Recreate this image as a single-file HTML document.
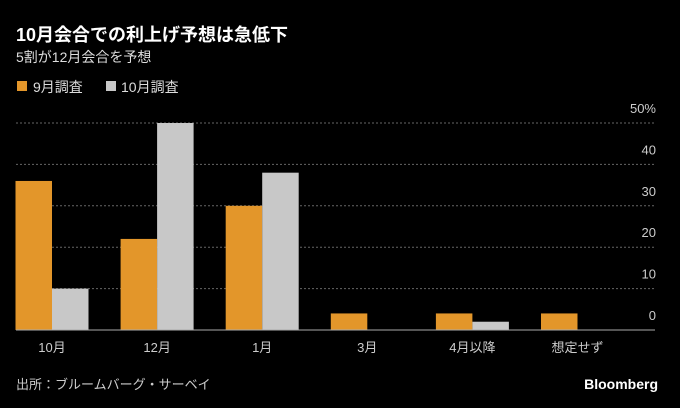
<!DOCTYPE html>
<html><head><meta charset="utf-8">
<style>
body{margin:0;background:#000;width:680px;height:408px;overflow:hidden;font-family:"Liberation Sans","Noto Sans CJK JP",sans-serif;color:#fff}
svg{display:block}
</style></head>
<body>
<svg width="680" height="408">
<text x="16" y="41" font-size="18" font-weight="bold" fill="#fff">10月会合での利上げ予想は急低下</text>
<text x="16" y="62" font-size="14" fill="#ddd">5割が12月会合を予想</text>
<g>
<rect x="17" y="81" width="10" height="10" fill="#e3962a"/>
<text x="33" y="92" font-size="14" fill="#ddd">9月調査</text>
<rect x="106" y="81" width="10" height="10" fill="#c8c8c8"/>
<text x="121" y="92" font-size="14" fill="#ddd">10月調査</text>
</g>
<g id="grid"></g>
<g id="bars"></g>
<g id="labels"></g>
<text x="16" y="389" font-size="13" fill="#ccc">出所：ブルームバーグ・サーベイ</text>
<text x="658" y="389" font-size="14" font-weight="bold" fill="#fff" text-anchor="end">Bloomberg</text>
</svg>
<script>
const categories=["10月","12月","1月","3月","4月以降","想定せず"];
const sepValues=[36,22,30,4,4,4];
const octValues=[10,50,38,0,2,0];
const ticks=[0,10,20,30,40,50];
const NS="http://www.w3.org/2000/svg";
const x0=16,x1=655,y0=330,pxPer=4.14;
const yS=v=>y0-v*pxPer;
const step=(x1-x0)/6.08;
const cx=i=>52+i*step;
const bw=36.5;
function mk(t,a,p){const e=document.createElementNS(NS,t);for(const k in a)e.setAttribute(k,a[k]);p.appendChild(e);return e;}
const g=document.getElementById('grid'),b=document.getElementById('bars'),l=document.getElementById('labels');
ticks.forEach(t=>{
 if(t>0){const ln=mk('line',{x1:x0,x2:x1,y1:yS(t),y2:yS(t),stroke:'#666','stroke-dasharray':'2,2'},g);
 
 }
 const tx=mk('text',{x:656,y:yS(t)-10,'font-size':13,fill:'#ccc','text-anchor':'end'},g);
 tx.textContent=t===50?'50%':String(t);
 
 
});
categories.forEach((c,i)=>{
 const r1=mk('rect',{x:cx(i)-bw,y:yS(sepValues[i]),width:bw,height:sepValues[i]*pxPer,fill:'#e3962a'},b);
 
 
 const r2=mk('rect',{x:cx(i),y:yS(octValues[i]),width:bw,height:octValues[i]*pxPer,fill:'#c8c8c8'},b);
 
 
 const tx=mk('text',{x:cx(i),y:352,'font-size':13,fill:'#ccc','text-anchor':'middle'},l);
 tx.textContent=c;
 
 
});
const ax=mk('line',{x1:x0,x2:x1,y1:y0,y2:y0,stroke:'#aaa','stroke-width':1},l);


</script>
</body></html>
